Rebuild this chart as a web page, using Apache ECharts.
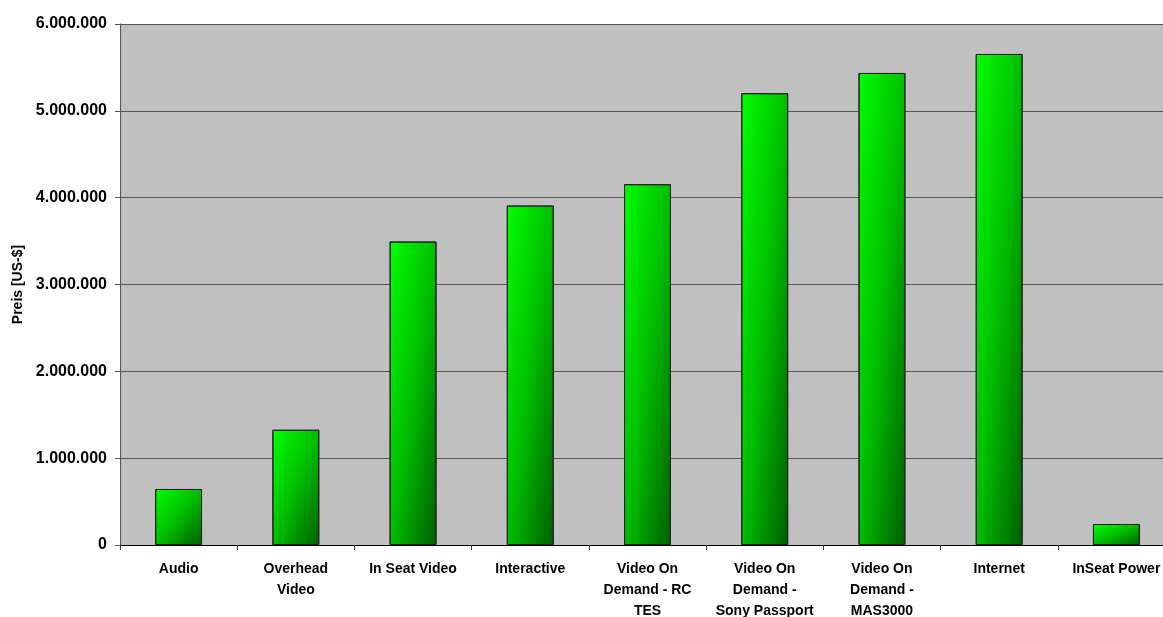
<!DOCTYPE html>
<html>
<head>
<meta charset="utf-8">
<script src="https://cdn.jsdelivr.net/npm/echarts@6/dist/echarts.min.js"></script>
<style>
  html, body { margin: 0; padding: 0; background: #fff; }
  #chart { width: 1163px; height: 617px; }
</style>
</head>
<body>
<div id="chart"></div>
<script>
var categories = [
  'Audio',
  'Overhead\nVideo',
  'In Seat Video',
  'Interactive',
  'Video On\nDemand - RC\nTES',
  'Video On\nDemand -\nSony Passport',
  'Video On\nDemand -\nMAS3000',
  'Internet',
  'InSeat Power'
];
var prices = [645000, 1327000, 3495000, 3909000, 4155000, 5203000, 5436000, 5655000, 242000];
var yTicks = { min: 0, max: 6000000, interval: 1000000 };
var yAxisTitle = 'Preis [US-$]';

var FONT = '"Liberation Sans", Arial, sans-serif';

function fmt(v) {
  return String(v).replace(/\B(?=(\d{3})+(?!\d))/g, '.');
}

var chart = echarts.init(document.getElementById('chart'), null, { renderer: 'canvas' });

function baseOption(data) {
  return {
    animation: false,
    backgroundColor: '#ffffff',
    grid: {
      left: 120, top: 24, width: 1055, height: 521,
      outerBoundsMode: 'none',
      containLabel: false,
      show: true, backgroundColor: '#C0C0C0', borderWidth: 0
    },
    xAxis: {
      type: 'category',
      data: categories,
      boundaryGap: true,
      axisLine: { show: true, lineStyle: { color: '#000', width: 1 } },
      axisTick: { show: true, length: 5, lineStyle: { color: '#333' } },
      axisLabel: {
        interval: 0, margin: 14,
        color: '#000', fontFamily: FONT, fontWeight: 'bold', fontSize: 14,
        lineHeight: 21, align: 'center',
        hideOverlap: false
      },
      splitLine: { show: false }
    },
    yAxis: {
      type: 'value',
      min: yTicks.min, max: yTicks.max, interval: yTicks.interval,
      name: yAxisTitle,
      nameLocation: 'middle',
      nameRotate: 90,
      nameGap: 93,
      nameTextStyle: { color: '#000', fontFamily: FONT, fontWeight: 'bold', fontSize: 14 },
      axisLine: { show: true, lineStyle: { color: '#555', width: 1 } },
      axisTick: { show: true, length: 5, lineStyle: { color: '#555' } },
      axisLabel: {
        margin: 13, color: '#000', fontFamily: FONT, fontWeight: 'bold', fontSize: 16,
        formatter: function (v) { return fmt(v); }
      },
      splitLine: { show: true, lineStyle: { color: '#555', width: 1 } }
    },
    series: [{
      type: 'bar',
      data: data,
      barWidth: '40%',
      itemStyle: {
        color: '#00C000',
        borderColor: '#222',
        borderWidth: 1
      }
    }]
  };
}

chart.setOption(baseOption(prices.slice()));

// Per-bar diagonal gradient (isolines along the bar's anti-diagonal, like Excel)
var y0 = chart.convertToPixel({ yAxisIndex: 0 }, 0);
var x0 = chart.convertToPixel({ xAxisIndex: 0 }, 0);
var x1 = chart.convertToPixel({ xAxisIndex: 0 }, 1);
var w = (x1 - x0) * 0.4;
var styled = prices.map(function (v) {
  var h = Math.max(1, y0 - chart.convertToPixel({ yAxisIndex: 0 }, v));
  var d = h * h + w * w;
  var gx = 2 * h * h / d;
  var gy = 2 * w * w / d;
  return {
    value: v,
    itemStyle: {
      color: new echarts.graphic.LinearGradient(0, 0, gx, gy, [
        { offset: 0, color: '#00FF00' },
        { offset: 0.5, color: '#00BE00' },
        { offset: 1, color: '#005E00' }
      ])
    }
  };
});
chart.setOption({ series: [{ data: styled }] });
</script>
</body>
</html>
